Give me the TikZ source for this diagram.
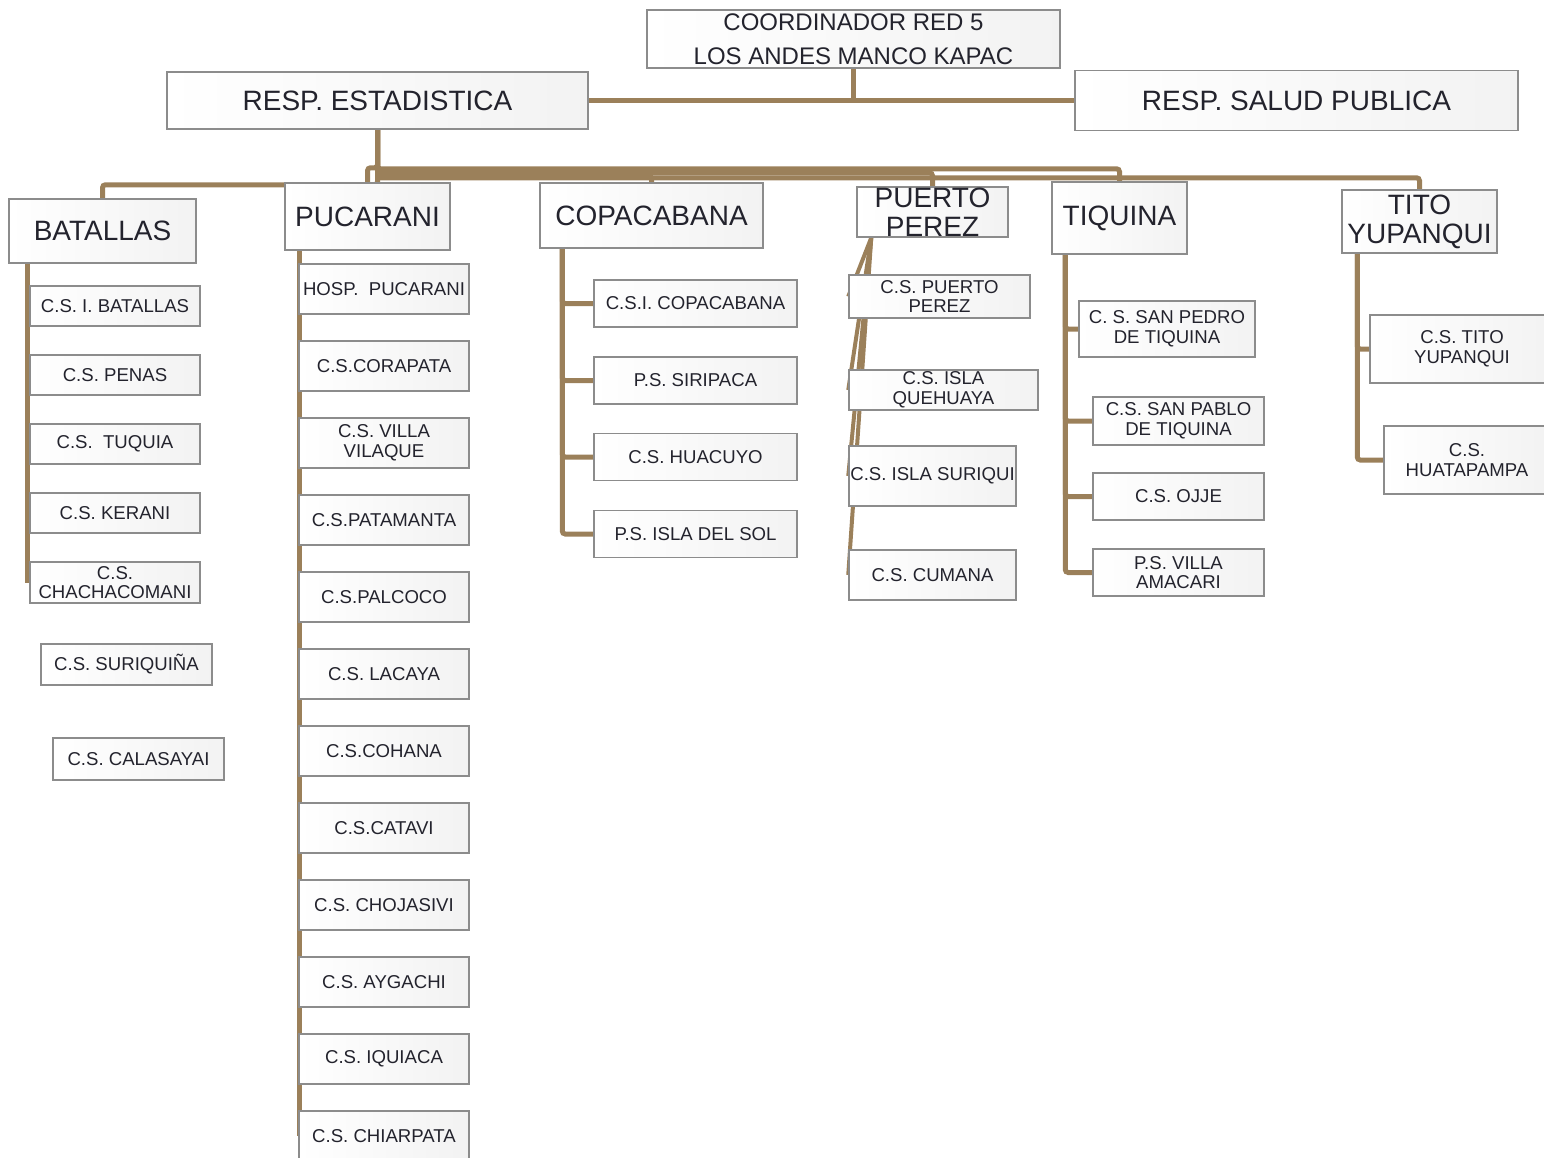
\documentclass[tikz,border=0pt]{standalone}
\usepackage{fontspec}
\setmainfont{Liberation Sans}
\usetikzlibrary{backgrounds}

\definecolor{linkbrown}{RGB}{155,128,90}
\definecolor{boxgray}{RGB}{140,140,140}
\definecolor{ink}{RGB}{35,35,45}

\newcommand{\ftop}{\fontsize{24}{34}\selectfont}
\newcommand{\fhead}{\fontsize{28}{29}\selectfont}
\newcommand{\funit}{\fontsize{18.6}{19.5}\selectfont}

\tikzset{every picture/.style={line width=0.75pt}}
\tikzset{
  unit/.style={draw=boxgray, line width=1.5pt, left color=white, right color=black!5,
    text=ink, inner sep=0pt, align=center, font=\funit},
  head/.style={unit, font=\fhead},
  link/.style={draw=linkbrown, line width=5pt, rounded corners=3pt},
}

\begin{document}
\begin{tikzpicture}[x=1pt,y=1pt,yscale=-1,xscale=1]
\useasboundingbox (0,0) rectangle (1544,1157);

% Top level
\node[unit, font=\ftop, minimum width=413, minimum height=58] (coord) at (853.5,39) {COORDINADOR RED 5\\LOS ANDES MANCO KAPAC};
\node[head, minimum width=421, minimum height=57] (estad) at (377.5,100.5) {RESP. ESTADISTICA};
\node[head, minimum width=443, minimum height=60] (salud) at (1296.5,100.5) {RESP. SALUD PUBLICA};

% Branches
\node[head, minimum width=187, minimum height=64] (bat) at (102.5,231) {BATALLAS};
\node[head, minimum width=165, minimum height=67] (puc) at (367.5,216.5) {PUCARANI};
\node[head, minimum width=223, minimum height=65] (copa) at (651.5,215.5) {COPACABANA};
\node[head, minimum width=151, minimum height=50] (pp) at (932.5,212) {PUERTO\\PEREZ};
\node[head, minimum width=135, minimum height=72] (tiq) at (1119.5,218) {TIQUINA};
\node[head, minimum width=155, minimum height=63] (tito) at (1419.5,221.5) {TITO\\YUPANQUI};

% BATALLAS
\node[unit, minimum width=170, minimum height=40] (bat1) at (115,306) {C.S. I. BATALLAS};
\node[unit, minimum width=170, minimum height=40] (bat2) at (115,375) {C.S. PENAS};
\node[unit, minimum width=170, minimum height=40] (bat3) at (115,444) {C.S.\ \ TUQUIA};
\node[unit, minimum width=170, minimum height=40] (bat4) at (115,513) {C.S. KERANI};
\node[unit, minimum width=170, minimum height=41] (bat5) at (115,582.5) {C.S.\\CHACHACOMANI};
\node[unit, minimum width=171, minimum height=41] (bat6) at (126.5,664.5) {C.S. SURIQUIÑA};
\node[unit, minimum width=171, minimum height=42] (bat7) at (138.5,759) {C.S. CALASAYAI};

% PUCARANI
\node[unit, minimum width=170, minimum height=50] (puc1) at (384,289) {HOSP.\ \ PUCARANI};
\node[unit, minimum width=170, minimum height=50] (puc2) at (384,366) {C.S.CORAPATA};
\node[unit, minimum width=170, minimum height=50] (puc3) at (384,443) {C.S. VILLA\\VILAQUE};
\node[unit, minimum width=170, minimum height=50] (puc4) at (384,520) {C.S.PATAMANTA};
\node[unit, minimum width=170, minimum height=50] (puc5) at (384,597) {C.S.PALCOCO};
\node[unit, minimum width=170, minimum height=50] (puc6) at (384,674) {C.S. LACAYA};
\node[unit, minimum width=170, minimum height=50] (puc7) at (384,751) {C.S.COHANA};
\node[unit, minimum width=170, minimum height=50] (puc8) at (384,828) {C.S.CATAVI};
\node[unit, minimum width=170, minimum height=50] (puc9) at (384,905) {C.S. CHOJASIVI};
\node[unit, minimum width=170, minimum height=50] (puc10) at (384,982) {C.S. AYGACHI};
\node[unit, minimum width=170, minimum height=50] (puc11) at (384,1059) {C.S. IQUIACA};
\node[unit, minimum width=170, minimum height=50] (puc12) at (384,1136) {C.S. CHIARPATA};

% COPACABANA
\node[unit, minimum width=203, minimum height=47] (copa1) at (695.5,303.5) {C.S.I. COPACABANA};
\node[unit, minimum width=203, minimum height=47] (copa2) at (695.5,380.5) {P.S. SIRIPACA};
\node[unit, minimum width=203, minimum height=47] (copa3) at (695.5,457) {C.S. HUACUYO};
\node[unit, minimum width=203, minimum height=47] (copa4) at (695.5,534) {P.S. ISLA DEL SOL};

% PUERTO PEREZ
\node[unit, minimum width=181, minimum height=43] (pp1) at (939.5,296.5) {C.S. PUERTO\\PEREZ};
\node[unit, minimum width=189, minimum height=40] (pp2) at (943.5,390) {C.S. ISLA\\QUEHUAYA};
\node[unit, minimum width=167, minimum height=60] (pp3) at (932.5,476) {C.S. ISLA SURIQUI};
\node[unit, minimum width=167, minimum height=50] (pp4) at (932.5,575) {C.S. CUMANA};

% TIQUINA
\node[unit, minimum width=176, minimum height=56] (tiq1) at (1167,329) {C. S. SAN PEDRO\\DE TIQUINA};
\node[unit, minimum width=171, minimum height=48] (tiq2) at (1178.5,421) {C.S. SAN PABLO\\DE TIQUINA};
\node[unit, minimum width=171, minimum height=47] (tiq3) at (1178.5,496.5) {C.S. OJJE};
\node[unit, minimum width=171, minimum height=47] (tiq4) at (1178.5,572.5) {P.S. VILLA\\AMACARI};

% TITO YUPANQUI
\node[unit, minimum width=184, minimum height=68] (tito1) at (1462,349) {C.S. TITO\\YUPANQUI};
\node[unit, minimum width=166, minimum height=68] (tito2) at (1467,460) {C.S.\\HUATAPAMPA};

\begin{scope}[on background layer]
% top links
\draw[link] (estad.east) -- (salud.west);
\draw[link] (coord.south) -- (coord.south |- estad.east);
% links to branches
\draw[link] (estad.south) -- ++(0,55) -| (bat.north);
\draw[link] (estad.south) -- ++(0,38) -| (puc.north);
\draw[link] (estad.south) -- ++(0,46) -| (copa.north);
\draw[link] (estad.south) -- ++(0,43) -| (pp.north);
\draw[link] (estad.south) -- ++(0,39) -| (tiq.north);
\draw[link] (estad.south) -- ++(0,48) -| (tito.north);
% BATALLAS / PUCARANI
\draw[link] ([xshift=19pt]bat.south west) -- ([xshift=19pt]bat.south west |- bat5.west);
\draw[link] ([xshift=15pt]puc.south west) -- ([xshift=15pt]puc.south west |- puc12.west);
% COPACABANA
\draw[link] ([xshift=23pt]copa.south west) |- (copa1.west);
\draw[link] ([xshift=23pt]copa.south west) |- (copa2.west);
\draw[link] ([xshift=23pt]copa.south west) |- (copa3.west);
\draw[link] ([xshift=23pt]copa.south west) |- (copa4.west);
% PUERTO PEREZ
\draw[link, line width=4pt] ([xshift=15pt]pp.south west) -- (pp1.west);
\draw[link, line width=4pt] ([xshift=15pt]pp.south west) -- (pp2.west);
\draw[link, line width=4pt] ([xshift=15pt]pp.south west) -- (pp3.west);
\draw[link, line width=4pt] ([xshift=15pt]pp.south west) -- (pp4.west);
% TIQUINA
\draw[link] ([xshift=14pt]tiq.south west) |- (tiq1.west);
\draw[link] ([xshift=14pt]tiq.south west) |- (tiq2.west);
\draw[link] ([xshift=14pt]tiq.south west) |- (tiq3.west);
\draw[link] ([xshift=14pt]tiq.south west) |- (tiq4.west);
% TITO YUPANQUI
\draw[link] ([xshift=16pt]tito.south west) |- (tito1.west);
\draw[link] ([xshift=16pt]tito.south west) |- (tito2.west);
\end{scope}

\end{tikzpicture}
\end{document}
